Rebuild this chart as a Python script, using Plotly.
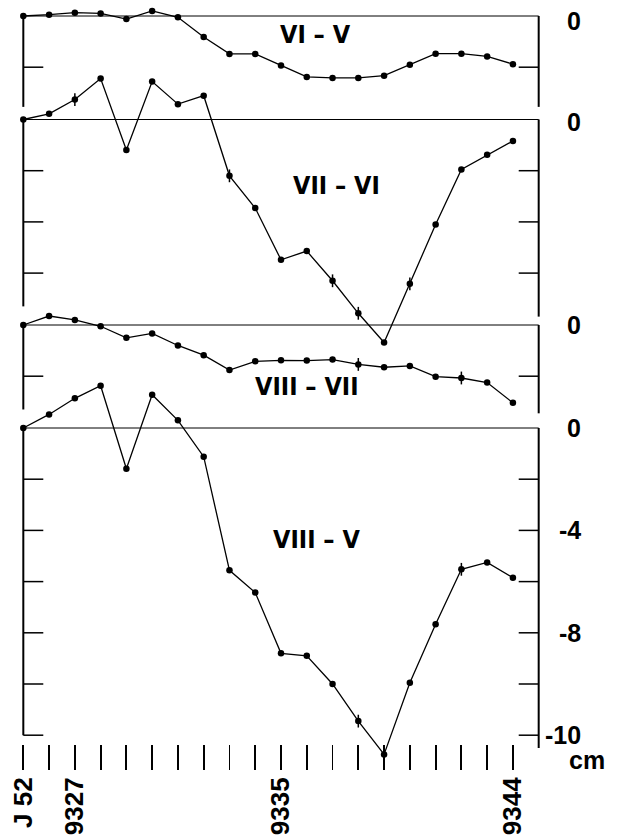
import plotly.graph_objects as go

# ---------------- data ----------------
station_labels = ["J 52", "", "9327", "", "", "", "", "", "", "", "9335",
                  "", "", "", "", "", "", "", "", "9344"]
station_idx = list(range(len(station_labels)))

vi_v = [0.0, 0.05, 0.13, 0.1, -0.12, 0.2, -0.05, -0.82, -1.48, -1.48,
        -1.93, -2.38, -2.42, -2.42, -2.33, -1.9, -1.47, -1.47, -1.58, -1.88]
vii_vi = [0.0, 0.22, 0.78, 1.6, -1.19, 1.48, 0.6, 0.93, -2.2, -3.46,
          -5.48, -5.14, -6.3, -7.57, -8.71, -6.42, -4.1, -1.95, -1.38, -0.84]
viii_vii = [0.0, 0.35, 0.2, -0.05, -0.5, -0.33, -0.8, -1.18, -1.76, -1.42,
            -1.38, -1.39, -1.35, -1.54, -1.65, -1.6, -2.02, -2.07, -2.25, -3.04]
viii_v = [0.0, 0.53, 1.16, 1.65, -1.59, 1.3, 0.3, -1.12, -5.56, -6.43,
          -8.8, -8.9, -10.0, -11.45, -12.75, -9.95, -7.67, -5.52, -5.25, -5.85]

err_vi_v = [0] * 20
err_vii_vi = [0, 0, 0.25, 0, 0, 0, 0, 0, 0.25, 0, 0, 0, 0.25, 0.25, 0, 0.25, 0, 0, 0, 0]
err_viii_vii = [0, 0, 0, 0, 0, 0, 0, 0, 0, 0, 0, 0, 0, 0.25, 0, 0, 0, 0.25, 0, 0]
err_viii_v = [0, 0, 0, 0, 0, 0, 0, 0, 0, 0, 0, 0, 0, 0.25, 0, 0, 0, 0.25, 0, 0]

panel_names = ["VI – V", "VII – VI", "VIII – VII", "VIII – V"]

# right-hand tick labels (value positions, text)
p4_label_vals = [0, -4, -8, -12]
p4_label_text = ["0", "-4", "-8", "-10"]
unit_label = "cm"

# ---------------- layout geometry ----------------
W, H = 618, 839
PX = 25.79          # px per station
XMIN, XMAX = -0.4, 20.4
X0PX = 23.3         # pixel of station 0
S = 25.6            # px per cm
T, B = 2, 772       # plot area top / bottom in px
XAXIS_PX = 744      # y pixel of station tick row

ml = X0PX + XMIN * PX
plot_w = (XMAX - XMIN) * PX
mr = W - ml - plot_w
mt = T
mb = H - B


def paper_x(px):
    return (px - ml) / plot_w


panels = [
    dict(y=vi_v, err=err_vi_v, zero=16, lb=-3.55, rb=-3.55, ticks=[-2],
         name_xy=(11.35, -0.74), zshift=-5),
    dict(y=vii_vi, err=err_vii_vi, zero=119.5, lb=-7.3, rb=-7.7, ticks=[-2, -4, -6],
         name_xy=(12.16, -2.56), zshift=-2),
    dict(y=viii_vii, err=err_viii_vii, zero=325, lb=-3.3, rb=-3.45, ticks=[-2],
         name_xy=(11.0, -2.42), zshift=0),
    dict(y=viii_v, err=err_viii_v, zero=428, lb=-12.0, rb=-12.5,
         ticks=[-2, -4, -6, -8, -10, -12], name_xy=(11.39, -4.34), zshift=0),
]

FRAME_L, FRAME_R = 0, 20
TL = 20 / PX  # tick length in x units

num_font = dict(family="Liberation Sans, Arial, sans-serif", size=25, color="black", weight="bold")
xtick_font = dict(family="Liberation Sans, Arial, sans-serif", size=26, color="black", weight="bold")
name_font = dict(family="Liberation Sans Narrow, DejaVu Sans Condensed, Liberation Sans, sans-serif",
                 size=25, color="black", weight="bold")

fig = go.Figure()
shapes = []
annotations = []
line_style = dict(color="black", width=1)
axis_style = dict(color="black", width=2)

for k, p in enumerate(panels):
    yname = "y" if k == 0 else f"y{k + 1}"
    fig.add_trace(go.Scatter(
        x=station_idx, y=p["y"], mode="lines+markers", yaxis=yname,
        line=dict(color="black", width=1.3),
        marker=dict(color="black", size=6.5),
        error_y=dict(type="data", array=p["err"], visible=True,
                     color="black", thickness=1.5, width=0),
        cliponaxis=False, showlegend=False, hoverinfo="skip",
    ))
    # zero line
    shapes.append(dict(type="line", xref="x", yref=yname, x0=FRAME_L, x1=FRAME_R,
                       y0=0, y1=0, line=line_style, layer="below"))
    # side axes
    shapes.append(dict(type="line", xref="x", yref=yname, x0=FRAME_L, x1=FRAME_L,
                       y0=0, y1=p["lb"], line=axis_style, layer="below"))
    shapes.append(dict(type="line", xref="x", yref=yname, x0=FRAME_R, x1=FRAME_R,
                       y0=0, y1=p["rb"], line=axis_style, layer="below"))
    for t in p["ticks"]:
        if t >= p["lb"] - 1e-6:
            shapes.append(dict(type="line", xref="x", yref=yname, x0=FRAME_L, x1=FRAME_L + TL,
                               y0=t, y1=t, line=dict(color="black", width=1.5), layer="below"))
        if t >= p["rb"] - 1e-6:
            shapes.append(dict(type="line", xref="x", yref=yname, x0=FRAME_R - TL, x1=FRAME_R,
                               y0=t, y1=t, line=dict(color="black", width=1.5), layer="below"))
    # panel name
    annotations.append(dict(text=panel_names[k], xref="x", yref=yname,
                            x=p["name_xy"][0], y=p["name_xy"][1], showarrow=False,
                            font=name_font, xanchor="center", yanchor="middle"))
    # right labels
    if k < 3:
        vals, txts = [0], ["0"]
    else:
        vals, txts = p4_label_vals, p4_label_text
    for v, t in zip(vals, txts):
        annotations.append(dict(text=t, xref="paper", yref=yname, x=paper_x(583), y=v,
                                yshift=p["zshift"] if v == 0 else 0,
                                showarrow=False, font=num_font,
                                xanchor="right", yanchor="middle"))

annotations.append(dict(text=unit_label, xref="paper", yref="y4", x=paper_x(607), y=-12.97,
                        showarrow=False, font=num_font, xanchor="right", yanchor="middle"))

layout_axes = {}
for k, p in enumerate(panels):
    key = "yaxis" if k == 0 else f"yaxis{k + 1}"
    rng = [-(B - p["zero"]) / S, (p["zero"] - T) / S]
    ax = dict(range=rng, visible=False, fixedrange=True)
    if k > 0:
        ax["overlaying"] = "y"
        ax["anchor"] = "x"
    layout_axes[key] = ax

fig.update_layout(
    width=W, height=H,
    margin=dict(l=ml, r=mr, t=mt, b=mb, pad=0),
    paper_bgcolor="white", plot_bgcolor="white",
    xaxis=dict(range=[XMIN, XMAX], tickmode="array", tickvals=station_idx,
               ticktext=station_labels, ticks="outside", ticklen=25, tickwidth=1.8,
               tickcolor="black", showline=False, showgrid=False, zeroline=False,
               tickangle=-90, tickfont=xtick_font, anchor="free",
               ticklabelstandoff=-3,
               position=(B - XAXIS_PX) / (B - T), automargin=False, fixedrange=True),
    shapes=shapes, annotations=annotations,
    **layout_axes,
)

fig.write_html("out.html",
               config={"displayModeBar": False, "staticPlot": True},
               post_script="document.body.style.margin='0';document.body.style.padding='0';"
                           "document.body.style.overflow='hidden';")
